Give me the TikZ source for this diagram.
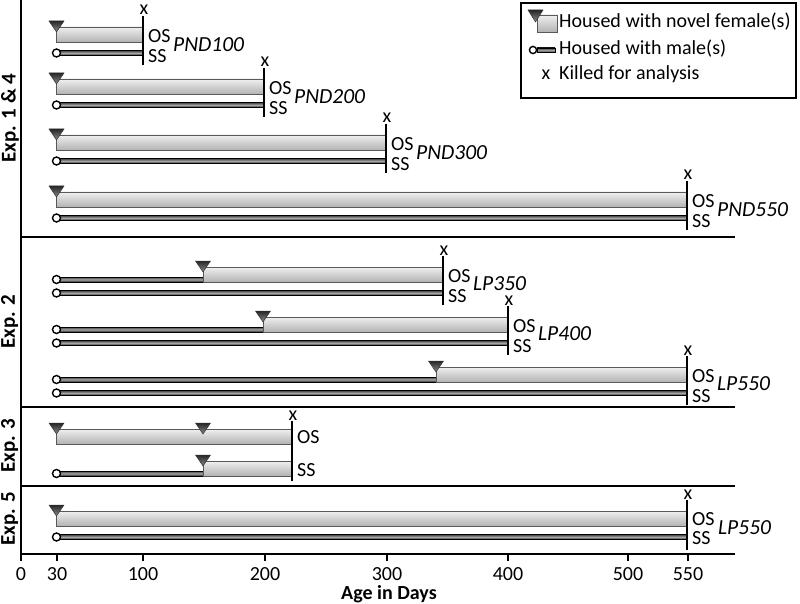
\documentclass[tikz,border=0pt]{standalone}
\usepackage{fontspec}
\setmainfont{Carlito}
\newcommand{\FemBar}[3]{\draw[fbarstyle] ({#1},{#3}) rectangle ({#2},{#3+15});}
\newcommand{\MaleBar}[3]{\draw[mbarstyle] ({#1},{#3-2.5}) rectangle ({#2},{#3+2.5});}
\newcommand{\MaleCirc}[2]{\draw[mcircstyle] ({#1},{#2}) circle[radius=4];}
\newcommand{\Tri}[2]{\draw[tristyle] ({#1-7.5},{#2-6}) -- ({#1+7.5},{#2-6}) -- ({#1},{#2+5}) -- cycle;}
\begin{document}
\begin{tikzpicture}[x=1pt,y=-1pt,
  every node/.style={font=\fontsize{20}{24}\selectfont, inner sep=0pt},
  fbarstyle/.style={draw=black!65, line width=0.8, top color=black!6, bottom color=black!30},
  mbarstyle/.style={draw=black, line width=0.6, top color=black!75, bottom color=black!85, middle color=black!35},
  mcircstyle/.style={draw=black, fill=white, line width=1.4},
  tristyle/.style={draw=black!80, line width=0.5, top color=black!85, bottom color=black!45},
  endline/.style={line width=2, black},
  axisline/.style={line width=1.6, black},
  explabel/.style={rotate=90, font=\fontsize{21}{24}\selectfont\bfseries},
  tlabel/.style={anchor=base},
  grp/.style={anchor=west, font=\fontsize{21.5}{24}\selectfont\itshape}]
\useasboundingbox (0,0) rectangle (800,604);

% axes and separators
\draw[axisline] (21,0) -- (21,561);
\draw[axisline] (21,554) -- (735,554);
\foreach \yy in {237,407,486} \draw[axisline] (21,\yy) -- (735,\yy);
\foreach \xx/\tt in {21/0, 57/30, 143/100, 265/200, 387/300, 508/400, 628/500, 688/550} {
  \draw[axisline] (\xx,554) -- (\xx,561);
  \node[tlabel] (tick\tt) at (\xx,580) {\tt};
}
\node[anchor=base, font=\fontsize{20}{24}\selectfont\bfseries] (xlabel) at (389,599) {Age in Days};

% experiment labels
\node[explabel, anchor=north] (e14) at (1,118) {Exp. 1 \& 4};
\node[explabel, anchor=north] (e2) at (1,322) {Exp. 2};
\node[explabel, anchor=north] (e3) at (1,446) {Exp. 3};
\node[explabel, anchor=north] (e5) at (1,519) {Exp. 5};

% Exp 1 & 4
\foreach \gt/\ex/\lab in {27/143/PND100, 79/264/PND200, 135/386/PND300, 192/687/PND550} {
  \MaleBar{56.5}{\ex}{\gt+26}
  \MaleCirc{56.5}{\gt+26}
  \FemBar{56.5}{\ex}{\gt}
  \Tri{56.5}{\gt}
  \draw[endline] (\ex,{\gt-11}) -- (\ex,{\gt+38});
  \node[anchor=base] (k\lab) at ({\ex+1},{\gt-12}) {x};
  \node[anchor=west] (os\lab) at ({\ex+5},{\gt+9}) {OS};
  \node[anchor=west] (ss\lab) at ({\ex+5},{\gt+29}) {SS};
  \node[grp] (l\lab) at ({\ex+30},{\gt+18}) {\lab};
}

% Exp 2
\foreach \gt/\sw/\ex/\lab in {267/203/443/LP350, 317/263/508/LP400, 367/436/687/LP550} {
  \MaleBar{56.5}{\sw}{\gt+12.5}
  \MaleCirc{56.5}{\gt+12.5}
  \FemBar{\sw}{\ex}{\gt}
  \Tri{\sw}{\gt}
  \MaleBar{56.5}{\ex}{\gt+26}
  \MaleCirc{56.5}{\gt+26}
  \draw[endline] (\ex,{\gt-11}) -- (\ex,{\gt+38});
  \node[anchor=base] (k\lab) at ({\ex+1},{\gt-12}) {x};
  \node[anchor=west] (os\lab) at ({\ex+5},{\gt+9}) {OS};
  \node[anchor=west] (ss\lab) at ({\ex+5},{\gt+29}) {SS};
  \node[grp] (l\lab) at ({\ex+30},{\gt+17}) {\lab};
}

% Exp 3
\FemBar{56.5}{292}{429}
\Tri{56.5}{429}
\Tri{203}{429}
\MaleBar{56.5}{203}{473.5}
\MaleCirc{56.5}{473.5}
\FemBar{203}{292}{461}
\Tri{203}{461}
\draw[endline] (292,421) -- (292,481);
\node[anchor=base] (k3) at (293,420) {x};
\node[anchor=west] (os3) at (297,437) {OS};
\node[anchor=west] (ss3) at (297,470) {SS};

% Exp 5
\MaleBar{56.5}{687}{537}
\MaleCirc{56.5}{537}
\FemBar{56.5}{687}{511}
\Tri{56.5}{511}
\draw[endline] (687,500) -- (687,550);
\node[anchor=base] (k5) at (688,499) {x};
\node[anchor=west] (os5) at (692,519) {OS};
\node[anchor=west] (ss5) at (692,538) {SS};
\node[grp] (l5) at (718,528) {LP550};

% legend
\draw[line width=1.2, black] (521,3) rectangle (796,98);
\draw[fbarstyle] (537,15) rectangle (557,32);
\draw[tristyle] (528,10) -- (543,10) -- (535.5,22) -- cycle;
\draw[mbarstyle] (537,48) rectangle (555,52.5);
\draw[mcircstyle] (533,50) circle[radius=3.6];
\node[anchor=base] (lgx) at (546,80) {x};
\node[anchor=base west] (lg1) at (559,28) {Housed with novel female(s)};
\node[anchor=base west] (lg2) at (559,55) {Housed with male(s)};
\node[anchor=base west] (lg3) at (559,80) {Killed for analysis};
\end{tikzpicture}
\end{document}
